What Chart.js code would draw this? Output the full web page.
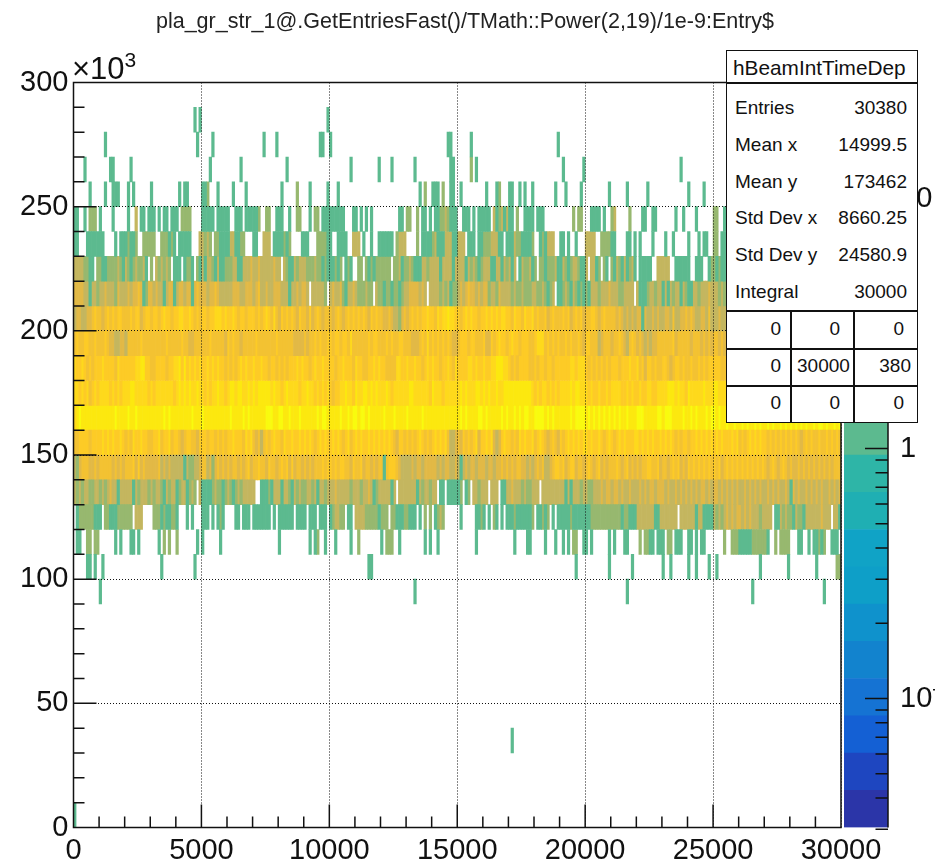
<!DOCTYPE html>
<html>
<head>
<meta charset="utf-8">
<script src="https://cdn.jsdelivr.net/npm/chart.js@4"></script>
<style>
  html, body { margin: 0; padding: 0; background: #fff; overflow: hidden; }
  #page { position: relative; width: 935px; height: 862px; overflow: hidden; font-family: "Liberation Sans", sans-serif; color: #111; filter: blur(0.5px); }
  canvas { position: absolute; top: 0; }
  #title { position: absolute; left: 0; width: 930px; top: 9px; text-align: center; font-size: 21.5px; line-height: 25px; color: #222; white-space: nowrap; }
  #power { position: absolute; left: 72px; top: 51px; font-size: 31px; line-height: 36px; }
  #power sup { font-size: 21px; line-height: 0; position: relative; top: -1px; vertical-align: super; }
  #stats { position: absolute; left: 726px; top: 50px; width: 190px; height: 371px; background: #fff; border: 1.5px solid #111; box-sizing: content-box; }
  #stats span { position: absolute; white-space: nowrap; font-size: 19px; line-height: 22px; }
  #stats i { position: absolute; background: #111; }
</style>
</head>
<body>
<div id="page">
  <canvas id="theChart" width="935" height="862" style="left:0"></canvas>
  <canvas id="theBar" width="92" height="862" style="left:843px"></canvas>
  <div id="title"></div>
  <div id="power">×10<sup>3</sup></div>
  <div id="stats"></div>
</div>
<script>
const titleText = "pla_gr_str_1@.GetEntriesFast()/TMath::Power(2,19)/1e-9:Entry$"
const binWidth = 100
const rowHeight = 10000

// colour levels of the cells, 0 = empty. the strings are one char per 100 wide bin
const row110 = "0110022022 0000001010 0011010000 0001020200 2000000010 1000000100 0000000000 0000000000 1000000000 0010120010 0010000010 0200000000 1022200100 0000000101 0010000000 0000000100 0000000000 0010000110 0000100010 0101022001 1010000001 0100011000 0202211011 1022011100 1101011000 0000200222 1111122222 2100202222 0001100101 1212001110"
const row120 = "0122222211 1022111222 2220333000 0222121122 1000101000 1110101210 0001101110 1111111010 1111110111 1011101110 1233220110 3333222221 2220221112 2111010202 0123200000 0100000112 1010210101 1121111112 0112120101 1111211111 1122222222 2222122111 3333333113 3333330333 3331331111 3232343434 4343433323 3330113232 2132213333 3343330331"
const row130 = "3232332233 2323433133 3331323332 3233213233 1233123203 1111232212 3212323333 3001112133 3133213232 2332313323 3343333323 3323343123 3333130333 3333132332 3301101111 1201203323 3303330113 3433323223 3303333333 3313133323 3223334344 3443433433 3434344344 4343343434 3434344343 4434343434 3343434343 3434343343 1434334343 4343343434"
const row140 = "3245554454 5555545454 5556464544 4445343433 3331322334 5534245454 5455454564 5565546554 5656464554 5454555656 6565665546 5564554545 5156665433 3343443444 4434344334 3134344344 4344344545 4545544343 4545334566 5645664554 5654564545 5565456454 5455665564 5545656454 6565656565 6564565656 5656565656 5456545654 5445454545 4545454555"
const row150 = "5566665666 6767676676 5657667665 5667566756 6545665546 6656656565 6676665767 5453565676 6576676676 7676567676 6767656756 7676676767 6767654665 6565676565 6767675334 5465656746 6767434676 6565767667 5676545654 6567676767 7676676567 6567676667 7676767667 6767656566 5667676767 6767666767 5656767676 6565656565 6565456565 5655656565"
const row160 = "7898888888 8888889888 8988988888 8888898988 8888889888 9888888888 8988889898 8888899988 9988988898 8888898998 8888988989 9899898888 8988898888 9888889888 8888888888 8989888899 8988888989 8898989988 9999898988 8888989999 8989898989 8989889888 9998888899 8999888898 8989888989 9898898898 8989889898 8989889898 9898989889 8998988989"
const row170 = "7767675676 7777676767 7788777776 7677777776 7878787787 7676778776 7887887787 8788888787 7678777767 7877676767 6566778776 8778878787 7787677777 7887777776 8777677777 7878777887 8787787788 8888888887 6767767676 7777878877 7676676676 7777667676 6766776677 7788878776 8777778777 88777"
const row180 = "7667656566 6766665766 6666778866 5566665667 7868676767 6676767665 6565676766 7667665665 6565666767 6656766766 6656676665 7665566767 6655557766 7667665676 7665667657 6666776766 7667788877 6565666655 6566566566 6666776777 6565656565 6665666766 7564665655 6654566565 5655656566 66655"
const row190 = "5655665565 5565443344 3555556555 5555556555 5565544555 5556555554 6565545555 5655555556 5555554444 5455656556 6566566575 5555565665 5565655665 5544456575 6565656544 5666566555 6446567665 6766566655 6777565656 5565655654 6655534555 4556543565 4543434455 5555645555 5455545454 55454"
const row200 = "3443344565 5456565665 5565664566 5665676656 6776676565 6656677767 6676566566 6565676575 4656565465 5464565455 5456545656 5656546565 5445433245 4565656676 6576778776 6567676656 6767676776 6576657667 5655645655 5656456564 5566545655 5545434343 4414334343 3443533445 4543344353 33433"
const row210 = "4444331332 3343332433 3434454124 4343313441 3443441454 4434454333 3344433444 3453343344 4333133434 4303333320 3433421334 3222322032 2122122123 3444434303 3332323122 3434544343 4423324333 3232232223 3223212301 1232132121 2133323334 3332233330 3111233233 1313233132 1133233343 33232"
const row220 = "3333221102 2112222321 3212322310 2032323201 1101221021 3133213112 2233113334 3343333343 3032113233 3222322121 1121201210 0220212122 2222022312 2321113323 3331333313 3331323212 3331133132 3130132231 2022122231 1321233211 3033120210 2132131231 0111110033 3330011111 1001110012 21211"
const row230 = "1100011111 1100001011 1211200222 2200222121 0111110003 3232022111 1331122000 1100333011 1121200001 1100022221 1001111003 3301001001 1111102333 0000201111 2311133311 3330111011 2223331101 1132211112 0012133300 1101001000 3333002222 1100001101 0100001000 0100100000 1000101100 22011"
const row240 = "1100102220 1000010000 0100301101 1101011011 1022220000 1111101111 1001110111 1120022001 1100100220 0010220111 1111110001 1010101000 0000000110 2200201101 0112232111 0011101011 1110312313 1102001111 0111000000 0000020220 0011110100 2300000200 0011001100 0000010010 0001000000 22001"
const denseStarts = [110000, 120000, 130000, 140000, 150000, 160000, 170000, 180000, 190000, 200000, 210000, 220000, 230000, 240000]
const denseRows = [row110, row120, row130, row140, row150, row160, row170, row180, row190, row200, row210, row220, row230, row240]

// thin rows, just the bin numbers
const sparseStarts = [0, 30000, 90000, 100000, 250000, 260000, 270000, 280000]
const sparseGreen = [
  [0],
  [171],
  [10, 133, 216, 265, 293],
  [5, 6, 8, 11, 34, 47, 115, 116, 196, 209, 218, 230, 233, 240, 243, 248, 251, 268, 279, 290],
  [6, 12, 15, 16, 17, 21, 23, 30, 41, 43, 44, 50, 51, 56, 62, 67, 81, 92, 99, 103, 135, 140, 141, 142, 147, 148, 151, 161, 165, 170, 171, 174, 176, 179, 188, 192, 198, 209, 216, 224, 240, 246],
  [4, 14, 15, 22, 53, 65, 83, 108, 119, 124, 133, 147, 148, 157, 191, 199, 237],
  [12, 48, 54, 74, 79, 96, 97, 100, 146, 147, 155, 189],
  [47, 49, 99]
]
const sparseOlive = [[], [], [], [298, 299], [52, 87, 137, 144, 166], [155], [], []]

// palette boxes from bottom to top, and which box each cell level uses
const boxColors = ["#2b35a8", "#1e46c0", "#1460d4", "#1573d3", "#1283ce", "#0f92cc", "#0e9fc8", "#10a3c6", "#1fafb3", "#2eb5a7", "#5cba8f", "#84b97c", "#97b86f", "#c4b65f", "#e2b946", "#f3c232", "#fdcb26", "#fed91c", "#fce80f", "#f9fb0e"]
const levelBoxes = [10, 12, 13, 14, 15, 16, 17, 18, 19]
const boxEdges = [0.0305, 0.043, 0.0606, 0.0854, 0.1203, 0.1696, 0.239, 0.3368, 0.4747, 0.669, 0.9428, 1.3287, 1.8725, 2.639, 3.719, 5.241, 7.386, 10.41, 14.67, 20.67, 29.13]
const zMajor = [0.1, 1, 10]
const zMinor = [0.03, 0.04, 0.05, 0.06, 0.07, 0.08, 0.09, 0.2, 0.3, 0.4, 0.5, 0.6, 0.7, 0.8, 0.9, 2, 3, 4, 5, 6, 7, 8, 9, 20]
const zLabels = ["10⁻¹", "1", "10"]

const xMinor = [1000, 2000, 3000, 4000, 6000, 7000, 8000, 9000, 11000, 12000, 13000, 14000, 16000, 17000, 18000, 19000, 21000, 22000, 23000, 24000, 26000, 27000, 28000, 29000]
const xMajor = [5000, 10000, 15000, 20000, 25000]
const yMinor = [10000, 20000, 30000, 40000, 60000, 70000, 80000, 90000, 110000, 120000, 130000, 140000, 160000, 170000, 180000, 190000, 210000, 220000, 230000, 240000, 260000, 270000, 280000, 290000]
const yMajor = [50000, 100000, 150000, 200000, 250000]

const statNames = ["Entries", "Mean x", "Mean y", "Std Dev x", "Std Dev y", "Integral"]
const statValues = ["30380", "14999.5", "173462", "8660.25", "24580.9", "30000"]
const tableValues = [["0", "0", "0"], ["0", "30000", "380"], ["0", "0", "0"]]

function addCell(sets, level, bin, start) {
  sets[level - 1].data.push({ x: bin * binWidth + binWidth / 2, y: [start, start + rowHeight] })
}

function buildCells() {
  let sets = levelBoxes.map(function (box) {
    return { data: [], backgroundColor: boxColors[box], grouped: false, barPercentage: 1, categoryPercentage: 1, borderWidth: 0 }
  })
  denseRows.forEach(function (row, r) {
    let chars = row.replace(/ /g, "")
    for (let i = 0; i < chars.length; i++) {
      let level = Number(chars[i])
      if (level > 0) addCell(sets, level, i, denseStarts[r])
    }
  })
  sparseStarts.forEach(function (start, r) {
    sparseGreen[r].forEach(function (bin) { addCell(sets, 1, bin, start) })
    sparseOlive[r].forEach(function (bin) { addCell(sets, 2, bin, start) })
  })
  return sets
}

// ROOT draws its ticks inwards, chart.js does not
const rootFrame = {
  id: "rootFrame",
  afterDraw(chart) {
    let c = chart.ctx, a = chart.chartArea, xs = chart.scales.x, ys = chart.scales.y
    c.save()
    c.strokeStyle = "#111"
    c.lineWidth = 1.5
    c.beginPath()
    xMinor.concat(xMajor).forEach(function (v) {
      let px = xs.getPixelForValue(v)
      c.moveTo(px, a.bottom)
      c.lineTo(px, a.bottom - (xMajor.includes(v) ? 23 : 11))
    })
    yMinor.concat(yMajor).forEach(function (v) {
      let py = ys.getPixelForValue(v)
      c.moveTo(a.left, py)
      c.lineTo(a.left + (yMajor.includes(v) ? 23 : 11), py)
    })
    c.stroke()
    c.strokeRect(a.left, a.top, a.right - a.left, a.bottom - a.top)
    c.restore()
  }
}

new Chart(document.getElementById("theChart"), {
  type: "bar",
  data: { datasets: buildCells() },
  plugins: [rootFrame],
  options: {
    responsive: false,
    animation: false,
    layout: { padding: { top: 82.5, right: 94, bottom: 0, left: 0 } },
    plugins: {
      legend: { display: false },
      tooltip: { enabled: false }
    },
    scales: {
      x: {
        type: "linear", min: 0, max: 30000, offset: false,
        afterFit(s) { s.height = 34.5 },
        ticks: { stepSize: 5000, autoSkip: false, maxRotation: 0, color: "#111", padding: 6, font: { family: "Liberation Sans", size: 29 }, callback: function (v) { return String(v) } },
        grid: { z: 1, offset: false, color: "#111", lineWidth: 1, drawTicks: false, tickLength: 0 },
        border: { display: false, dash: [1, 2] }
      },
      y: {
        min: 0, max: 300000,
        afterFit(s) { s.width = 73.5 },
        ticks: { stepSize: 50000, autoSkip: false, color: "#111", padding: 5, font: { family: "Liberation Sans", size: 29 }, callback: function (v) { return v / 1000 } },
        grid: { z: 1, color: "#111", lineWidth: 1, drawTicks: false, tickLength: 0 },
        border: { display: false, dash: [1, 2] }
      }
    }
  }
})

const barTicks = {
  id: "barTicks",
  afterDraw(chart) {
    let c = chart.ctx, a = chart.chartArea, zs = chart.scales.y
    c.save()
    c.strokeStyle = "#111"
    c.lineWidth = 1.5
    c.beginPath()
    zMinor.concat(zMajor).forEach(function (v) {
      let py = zs.getPixelForValue(v)
      c.moveTo(a.right, py)
      c.lineTo(a.right - (zMajor.includes(v) ? 23 : 12.5), py)
    })
    c.moveTo(a.right, a.top)
    c.lineTo(a.right, a.bottom)
    c.stroke()
    c.restore()
  }
}

new Chart(document.getElementById("theBar"), {
  type: "bar",
  data: {
    labels: ["z"],
    datasets: boxColors.map(function (color, i) {
      return { data: [[boxEdges[i], boxEdges[i + 1]]], backgroundColor: color, grouped: false, barPercentage: 1, categoryPercentage: 1 }
    })
  },
  plugins: [barTicks],
  options: {
    responsive: false,
    animation: false,
    layout: { padding: { top: 82.5, bottom: 34.5, left: 1, right: 0 } },
    plugins: { legend: { display: false }, tooltip: { enabled: false } },
    scales: {
      x: { display: false },
      y: {
        type: "logarithmic", position: "right", min: 0.0305, max: 29.13,
        afterFit(s) { s.width = 47 },
        afterBuildTicks(s) { s.ticks = zMajor.map(function (v) { return { value: v } }) },
        ticks: {
          autoSkip: false, color: "#111", padding: 4, font: { family: "Liberation Sans", size: 29 },
          callback: function (v) { return zLabels[zMajor.indexOf(v)] }
        },
        grid: { display: false },
        border: { display: false }
      }
    }
  }
})

document.getElementById("title").textContent = titleText

// stats box, real text on top of the canvases
const statsBox = document.getElementById("stats")
function put(text, css) {
  let s = document.createElement("span")
  s.textContent = text
  s.style.cssText = css
  statsBox.appendChild(s)
}
function rule(css) {
  let l = document.createElement("i")
  l.style.cssText = css
  statsBox.appendChild(l)
}
put("hBeamIntTimeDep", "left:6px;top:6px;font-size:20.8px")
rule("left:0;top:31px;width:190px;height:1.5px")
statNames.forEach(function (name, i) {
  let top = 46 + i * 36.8
  put(name, "left:8px;top:" + top + "px")
  put(statValues[i], "right:10px;top:" + top + "px")
})
const tableRows = [260, 297, 334]
rule("left:0;top:259px;width:190px;height:1.5px")
rule("left:0;top:297px;width:190px;height:1.5px")
rule("left:0;top:334px;width:190px;height:1.5px")
rule("left:63px;top:259px;width:1.5px;height:112px")
rule("left:126px;top:259px;width:1.5px;height:112px")
tableValues.forEach(function (row, r) {
  let top = tableRows[r] + 7
  put(row[0], "right:136px;top:" + top + "px")
  put(row[1], r == 1 ? "left:70px;top:" + top + "px" : "right:77px;top:" + top + "px")
  put(row[2], (r == 1 ? "right:6px;" : "right:13px;") + "top:" + top + "px")
})
</script>
</body>
</html>
